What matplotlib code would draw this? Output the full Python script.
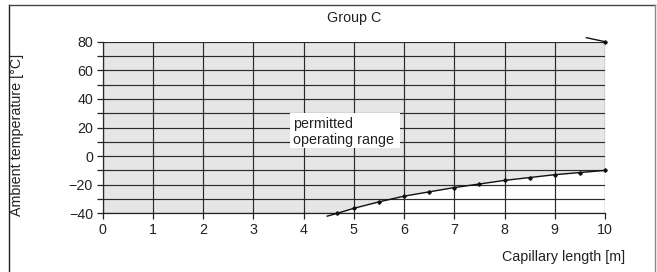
import matplotlib
matplotlib.use("Agg")
import matplotlib.pyplot as plt
from matplotlib.lines import Line2D
from matplotlib.patches import Rectangle
import numpy as np

plt.rcParams['font.family'] = ['Liberation Sans', 'DejaVu Sans']

# Data
title = "Group C"
x_label = "Capillary length [m]"
y_label = "Ambient temperature [°C]"
x_ticks = [0, 1, 2, 3, 4, 5, 6, 7, 8, 9, 10]
y_ticks = [-40, -20, 0, 20, 40, 60, 80]
y_ticklabels = ["\u221240", "\u221220", "0", "20", "40", "60", "80"]

# lower limit curve (first point = line start below axis, without marker)
curve_len = [4.47, 4.67, 5.0, 5.5, 6.0, 6.5, 7.0, 7.5, 8.0, 8.5, 9.0, 9.5, 10.0]
curve_temp = [-42, -40, -36.5, -32, -28, -25, -22, -19.5, -17, -15, -13, -11.5, -10]
# upper limit stub at top right
upper_len = [9.63, 10.0]
upper_temp = [82.8, 80]
region_label = "permitted\noperating range"

FS = 10.3
W, H = 657, 272
fig = plt.figure(figsize=(W / 100, H / 100), dpi=100)
ax = fig.add_axes([102.7 / W, 1 - 213.3 / H, (605 - 102.7) / W, (213.3 - 41.7) / H])
ax.set_xlim(0, 10)
ax.set_ylim(-40, 80)
ax.set_facecolor('white')

# shaded permitted region (above lower curve)
fx = np.concatenate([[0], curve_len])
fy = np.concatenate([[curve_temp[0]], curve_temp])
ax.fill_between(fx, fy, 80, color='#e6e6e7', zorder=0.5, linewidth=0)

# grid
ax.set_xticks(x_ticks)
ax.set_xticklabels([str(v) for v in x_ticks])
ax.set_yticks(y_ticks)
ax.set_yticklabels(y_ticklabels)
ax.set_yticks(np.arange(-30, 80, 20), minor=True)
ax.grid(True, which='both', color='#2a2a2a', linewidth=0.85)
ax.set_axisbelow(False)
for sp in ['top', 'right']:
    ax.spines[sp].set_visible(False)
for sp in ['left', 'bottom']:
    ax.spines[sp].set_color('#222222')
    ax.spines[sp].set_linewidth(0.9)
ax.tick_params(which='both', direction='out', length=4, width=0.9, color='#222222',
               labelsize=FS, pad=3, labelcolor='#222222')

# curves
ax.plot(curve_len, curve_temp, color='#111111', linewidth=1.0, marker='D', markersize=1.8,
        markevery=list(range(1, len(curve_len))), clip_on=False, zorder=4)
ax.plot(upper_len, upper_temp, color='#111111', linewidth=1.0, marker='D', markersize=1.8,
        markevery=[1], clip_on=False, zorder=4)

# label box
ax.add_patch(Rectangle((3.73, 5.6), 2.19, 24.7, facecolor='white', edgecolor='none', zorder=3))
ax.text(3.79, 17.0, region_label, fontsize=FS, ha='left', va='center', linespacing=1.2,
        color='#222222', zorder=5)

# texts
fig.text(354 / W, 1 - 18 / H, title, ha='center', va='center', fontsize=FS, color='#222222')
fig.text(17 / W, 1 - 134.5 / H, y_label, rotation=90, ha='center', va='center', fontsize=FS,
         color='#222222')
fig.text(625 / W, 1 - 257.5 / H, x_label, ha='right', va='center', fontsize=FS, color='#222222')

# outer frame lines
fig.add_artist(Line2D([8.5 / W, 8.5 / W], [0, 1 - 5 / H], color='#222222', linewidth=1.0))
fig.add_artist(Line2D([8.5 / W, 655 / W], [1 - 5 / H, 1 - 5 / H], color='#444444', linewidth=1.0))
fig.add_artist(Line2D([655 / W, 655 / W], [0, 1 - 5 / H], color='#888888', linewidth=1.0))

fig.savefig("out.png", dpi=100)
